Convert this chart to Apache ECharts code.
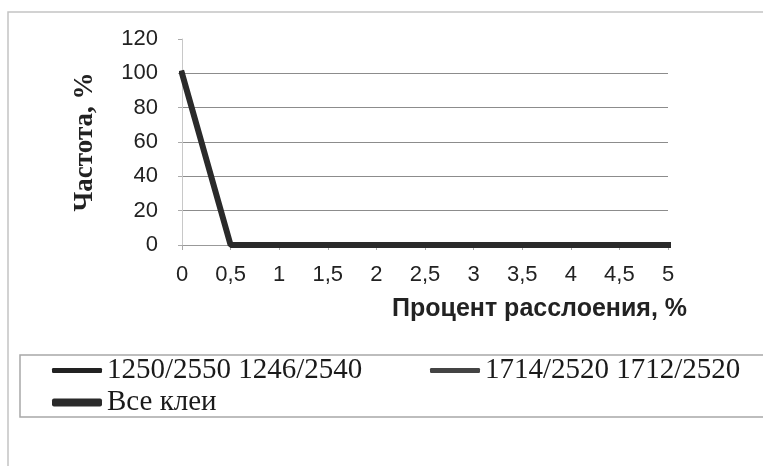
<!DOCTYPE html>
<html>
<head>
<meta charset="utf-8">
<script src="https://cdn.jsdelivr.net/npm/echarts@6/dist/echarts.min.js"></script>
<style>html,body{margin:0;padding:0;background:#fff;}#c{width:763px;height:466px;}</style>
</head>
<body>
<div id="c"></div>
<script>
const categories = ['0', '0,5', '1', '1,5', '2', '2,5', '3', '3,5', '4', '4,5', '5'];
const seriesNames = ['1250/2550 1246/2540', '1714/2520 1712/2520', 'Все клеи'];
const s1 = [100, 0, 0, 0, 0, 0, 0, 0, 0, 0, 0];
const s2 = [100, 0, 0, 0, 0, 0, 0, 0, 0, 0, 0];
const s3 = [100, 0, 0, 0, 0, 0, 0, 0, 0, 0, 0];
const yTicks = { min: 0, max: 120, interval: 20 };
const xTitle = 'Процент расслоения, %';
const yTitle = 'Частота, %';

const chart = echarts.init(document.getElementById('c'), null, { renderer: 'canvas' });
const legendText = { fontFamily: 'Liberation Serif', fontSize: 29, color: '#1a1a1a' };
chart.setOption({
  animation: false,
  backgroundColor: '#fff',
  graphic: [
    { type: 'rect', shape: { x: 8, y: 12, width: 800, height: 500 }, style: { fill: 'none', stroke: '#c4c4c4', lineWidth: 1.5 }, z: -10 },
    { type: 'rect', shape: { x: 20, y: 355, width: 800, height: 62 }, style: { fill: 'none', stroke: '#a8a8a8', lineWidth: 1.5 }, z: -10 }
  ],
  grid: { left: 182, right: 95, top: 39, bottom: 221, containLabel: false },
  legend: [
    { data: [{ name: seriesNames[0], icon: 'roundRect' }], left: 52, top: 356, padding: 0, itemWidth: 50, itemHeight: 5, textStyle: legendText, selectedMode: false },
    { data: [{ name: seriesNames[1], icon: 'roundRect' }], left: 430, top: 356, padding: 0, itemWidth: 50, itemHeight: 5, textStyle: legendText, selectedMode: false },
    { data: [{ name: seriesNames[2], icon: 'roundRect' }], left: 52, top: 388, padding: 0, itemWidth: 50, itemHeight: 8, textStyle: legendText, selectedMode: false }
  ],
  xAxis: {
    type: 'category',
    data: categories,
    boundaryGap: false,
    axisLine: { show: true, lineStyle: { color: '#999', width: 1 } },
    axisTick: { show: true, length: 5, lineStyle: { color: '#aaa' } },
    axisLabel: { fontFamily: 'Liberation Sans', fontSize: 22, color: '#222', margin: 19 },
    splitLine: { show: false },
    name: xTitle,
    nameLocation: 'end',
    nameGap: 19,
    nameTextStyle: { fontFamily: 'Liberation Sans', fontWeight: 'bold', fontSize: 25, color: '#222', align: 'right', verticalAlign: 'top', padding: [52, 0, 0, 0] }
  },
  yAxis: {
    type: 'value',
    min: yTicks.min, max: yTicks.max, interval: yTicks.interval,
    axisLine: { show: true, lineStyle: { color: '#c8c8c8', width: 1 } },
    axisTick: { show: true, length: 4, lineStyle: { color: '#aaa' } },
    axisLabel: { fontFamily: 'Liberation Sans', fontSize: 22, color: '#222', margin: 24 },
    splitLine: { show: true, showMaxLine: false, lineStyle: { color: '#8c8c8c', width: 1 } },
    name: yTitle,
    nameLocation: 'middle',
    nameGap: 83,
    nameTextStyle: { fontFamily: 'Liberation Serif', fontWeight: 'bold', fontSize: 27, color: '#222' }
  },
  series: [
    { name: seriesNames[0], type: 'line', data: s1, symbol: 'none', color: '#222', lineStyle: { width: 2, color: '#222' }, z: 3 },
    { name: seriesNames[1], type: 'line', data: s2, symbol: 'none', color: '#444', lineStyle: { width: 3, color: '#444' }, z: 4 },
    { name: seriesNames[2], type: 'line', data: s3, symbol: 'none', color: '#2a2a2a', lineStyle: { width: 6, color: '#2a2a2a', cap: 'square' }, z: 5 }
  ]
});
</script>
</body>
</html>
